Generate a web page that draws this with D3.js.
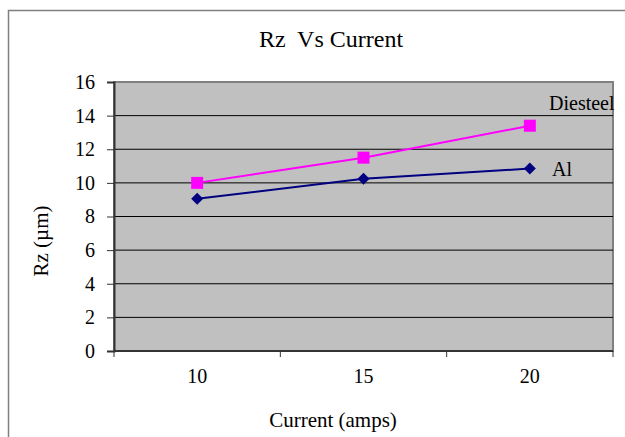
<!DOCTYPE html>
<html>
<head>
<meta charset="utf-8">
<script src="https://cdn.jsdelivr.net/npm/d3@7"></script>
<style>
  body { margin: 0; background: #fff; }
  svg text { font-family: "Liberation Serif", "Times New Roman", Times, "DejaVu Serif", serif !important; fill: #000; white-space: pre; }
</style>
</head>
<body>
<div id="chart"></div>
<script>
// Chart data
const currents = ["10", "15", "20"];
const alValues = [9.05, 10.25, 10.85];
const diesteelValues = [10.0, 11.5, 13.4];
const yTicks = [0, 2, 4, 6, 8, 10, 12, 14, 16];

const serif = "'Liberation Serif', 'Times New Roman', 'DejaVu Serif', serif";

const width = 625, height = 437;
const margin = { top: 82, right: 12, bottom: 86, left: 114 };
const w = width - margin.left - margin.right;
const h = height - margin.top - margin.bottom;

const svg = d3.select("#chart").append("svg")
    .attr("width", width)
    .attr("height", height)
    .attr("font-family", serif);

// Outer chart frame (only top and left edges visible)
svg.append("path")
    .attr("d", "M8.5,437 V10.5 H625")
    .attr("fill", "none")
    .attr("stroke", "#808080")
    .attr("stroke-width", 1.5);

// Title
svg.append("text")
    .attr("x", 331)
    .attr("y", 47)
    .attr("text-anchor", "middle")
    .attr("xml:space", "preserve")
    .style("font-size", "24px")
    .text("Rz  Vs Current");

const g = svg.append("g")
    .attr("transform", `translate(${margin.left}, ${margin.top})`);

// Scales
const x = d3.scaleBand().domain(currents).range([0, w]);
const y = d3.scaleLinear().domain([0, 16]).range([h, 0]);

// Plot background
g.append("rect")
    .attr("width", w)
    .attr("height", h)
    .attr("fill", "#c0c0c0")
    .attr("stroke", "#808080")
    .attr("stroke-width", 2);

// Gridlines
g.append("g")
    .selectAll("line")
    .data(yTicks.filter(d => d > 0 && d < 16))
    .enter()
    .append("line")
    .attr("x1", 0)
    .attr("x2", w)
    .attr("y1", d => y(d))
    .attr("y2", d => y(d))
    .attr("stroke", "#000")
    .attr("stroke-width", 1);

// Y axis
const yAxis = g.append("g")
    .call(d3.axisLeft(y).tickValues(yTicks).tickSize(7).tickPadding(12));
yAxis.attr("font-family", serif);
yAxis.select(".domain").attr("stroke", "#333").attr("stroke-width", 2);
yAxis.selectAll(".tick line").attr("stroke", "#333");
yAxis.selectAll("text").style("font-size", "20px").attr("fill", "#000");

// X axis: ticks between categories
const xAxis = g.append("g")
    .attr("transform", `translate(0,${h})`);
xAxis.append("line")
    .attr("x1", 0).attr("x2", w)
    .attr("stroke", "#333").attr("stroke-width", 2);
const bounds = currents.map(c => x(c)).concat([w]);
xAxis.selectAll(".sep")
    .data(bounds)
    .enter()
    .append("line")
    .attr("x1", d => d).attr("x2", d => d)
    .attr("y1", 0).attr("y2", 6)
    .attr("stroke", "#333");
xAxis.selectAll(".lbl")
    .data(currents)
    .enter()
    .append("text")
    .attr("x", d => x(d) + x.bandwidth() / 2)
    .attr("y", 32)
    .attr("text-anchor", "middle")
    .style("font-size", "20px")
    .text(d => d);

// Axis titles
svg.append("text")
    .attr("transform", "rotate(-90)")
    .attr("x", -241)
    .attr("y", 48)
    .attr("text-anchor", "middle")
    .style("font-size", "21px")
    .text("Rz (\u00b5m)");

svg.append("text")
    .attr("x", 333)
    .attr("y", 427)
    .attr("text-anchor", "middle")
    .style("font-size", "21px")
    .text("Current (amps)");

const cx = d => x(d) + x.bandwidth() / 2;

// Diesteel series
const dData = currents.map((c, i) => ({ c, v: diesteelValues[i] }));
g.append("path")
    .datum(dData)
    .attr("fill", "none")
    .attr("stroke", "#ff00ff")
    .attr("stroke-width", 2)
    .attr("d", d3.line().x(d => cx(d.c)).y(d => y(d.v)));
g.selectAll(".sq")
    .data(dData)
    .enter()
    .append("rect")
    .attr("x", d => cx(d.c) - 6)
    .attr("y", d => y(d.v) - 6)
    .attr("width", 12)
    .attr("height", 12)
    .attr("fill", "#ff00ff");

// Al series
const aData = currents.map((c, i) => ({ c, v: alValues[i] }));
g.append("path")
    .datum(aData)
    .attr("fill", "none")
    .attr("stroke", "#000080")
    .attr("stroke-width", 2)
    .attr("d", d3.line().x(d => cx(d.c)).y(d => y(d.v)));
g.selectAll(".dia")
    .data(aData)
    .enter()
    .append("path")
    .attr("transform", d => `translate(${cx(d.c)},${y(d.v)})`)
    .attr("d", "M0,-6 L6,0 L0,6 L-6,0 Z")
    .attr("fill", "#000080");

// Series labels
svg.append("text")
    .attr("x", 549)
    .attr("y", 110)
    .style("font-size", "20px")
    .text("Diesteel");
svg.append("text")
    .attr("x", 552)
    .attr("y", 176)
    .style("font-size", "20px")
    .text("Al");
</script>
</body>
</html>
